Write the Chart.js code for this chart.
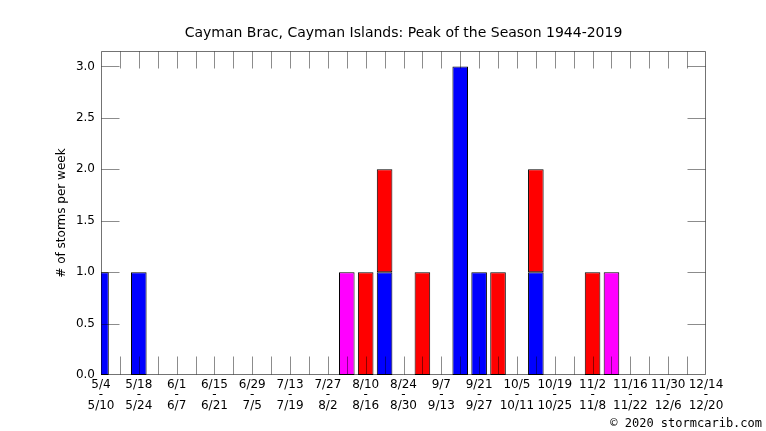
<!DOCTYPE html>
<html>
<head>
<meta charset="utf-8">
<script src="https://cdn.jsdelivr.net/npm/chart.js@4/dist/chart.umd.min.js"></script>
<style>
  html, body { margin: 0; padding: 0; background: #fff; }
  #wrap { width: 766px; height: 431px; position: relative; }
</style>
</head>
<body>
<div id="wrap"><canvas id="c" width="766" height="431"></canvas></div>
<script>
const weekStarts = ['5/4','5/11','5/18','5/25','6/1','6/8','6/15','6/22','6/29','7/6','7/13','7/20','7/27','8/3','8/10','8/17','8/24','8/31','9/7','9/14','9/21','9/28','10/5','10/12','10/19','10/26','11/2','11/9','11/16','11/23','11/30','12/7','12/14'];
const weekEnds = ['5/10','5/17','5/24','5/31','6/7','6/14','6/21','6/28','7/5','7/12','7/19','7/26','8/2','8/9','8/16','8/23','8/30','9/6','9/13','9/20','9/27','10/4','10/11','10/18','10/25','11/1','11/8','11/15','11/22','11/29','12/6','12/13','12/20'];
const blueSeries = [1,null,1,null,null,null,null,null,null,null,null,null,null,null,null,1,null,null,null,3,1,null,null,1,null,null,null,null,null,null,null,null,null];
const redSeries = [null,null,null,null,null,null,null,null,null,null,null,null,null,null,1,1,null,1,null,null,null,1,null,1,null,null,1,null,null,null,null,null,null];
const magentaSeries = [null,null,null,null,null,null,null,null,null,null,null,null,null,1,null,null,null,null,null,null,null,null,null,null,null,null,null,1,null,null,null,null,null];
const yTickValues = [0, 0.5, 1.0, 1.5, 2.0, 2.5, 3.0];
const titleText = 'Cayman Brac, Cayman Islands: Peak of the Season 1944-2019';
const yTitleText = '# of storms per week';
const creditText = '\u00a9 2020 stormcarib.com';

Chart.defaults.font.family = '"DejaVu Sans", sans-serif';
Chart.defaults.font.size = 12;
Chart.defaults.color = '#000';

const decor = {
  id: 'decor',
  afterDatasetsDraw(chart) {
    const ctx = chart.ctx;
    const a = chart.chartArea;
    const xs = chart.scales.x, ys = chart.scales.y;
    const L = Math.round(a.left) + 0.5, R = Math.round(a.right) - 0.5;
    const T = Math.round(a.top) + 0.5, B = Math.round(a.bottom) - 0.5;
    ctx.save();
    ctx.lineWidth = 1;
    ctx.strokeStyle = 'rgba(0,0,0,0.45)';
    ctx.beginPath();
    for (let i = 1; i < weekStarts.length - 1; i++) {
      const x = Math.round(xs.getPixelForValue(i)) + 0.5;
      ctx.moveTo(x, B); ctx.lineTo(x, B - 18);
      ctx.moveTo(x, T); ctx.lineTo(x, T + 17);
    }
    yTickValues.forEach(v => {
      if (v === 0) return;
      const y = Math.round(ys.getPixelForValue(v)) + 0.5;
      ctx.moveTo(L, y); ctx.lineTo(L + 18, y);
      ctx.moveTo(R, y); ctx.lineTo(R - 18, y);
    });
    ctx.stroke();
    ctx.strokeStyle = 'rgba(0,0,0,0.55)';
    ctx.beginPath();
    ctx.rect(L, T, R - L, B - T);
    ctx.stroke();
    // title
    ctx.fillStyle = '#000';
    ctx.font = '14px "DejaVu Sans", sans-serif';
    ctx.textAlign = 'center';
    ctx.textBaseline = 'middle';
    ctx.fillText(titleText, (a.left + a.right) / 2, 33);
    // y title
    ctx.save();
    ctx.translate(62, (a.top + a.bottom) / 2);
    ctx.rotate(-Math.PI / 2);
    ctx.font = '12px "DejaVu Sans", sans-serif';
    ctx.fillText(yTitleText, 0, 0);
    ctx.restore();
    // credit
    ctx.font = '12px "DejaVu Sans Mono", monospace';
    ctx.textAlign = 'right';
    ctx.fillText(creditText, 762, 424);
    ctx.restore();
  }
};

const barCommon = { borderColor: '#000', borderWidth: 1, borderSkipped: false, barPercentage: 0.825, categoryPercentage: 1.0 };

new Chart(document.getElementById('c'), {
  type: 'bar',
  data: {
    labels: weekStarts,
    datasets: [
      Object.assign({ label: 'blue', data: blueSeries, backgroundColor: '#0000ff' }, barCommon),
      Object.assign({ label: 'red', data: redSeries, backgroundColor: '#ff0000' }, barCommon),
      Object.assign({ label: 'magenta', data: magentaSeries, backgroundColor: '#ff00ff' }, barCommon)
    ]
  },
  options: {
    responsive: false,
    animation: false,
    devicePixelRatio: 1,
    layout: { padding: { top: 51, right: 60, left: 0, bottom: 0 } },
    plugins: { legend: { display: false }, title: { display: false }, tooltip: { enabled: false } },
    scales: {
      x: {
        stacked: true,
        offset: false,
        grid: { display: false, drawTicks: false },
        border: { display: false },
        ticks: {
          autoSkip: false,
          maxRotation: 0,
          minRotation: 0,
          padding: 4,
          font: { size: 12, lineHeight: 0.9 },
          callback: (v, i) => (i % 2 === 0 ? [weekStarts[i], '-', weekEnds[i]] : '')
        },
        afterFit: s => { s.height = 56; }
      },
      y: {
        stacked: true,
        min: 0,
        max: 3.15,
        grid: { display: false, drawTicks: false },
        border: { display: false },
        ticks: { stepSize: 0.5, padding: 6, callback: v => Number(v).toFixed(1) },
        afterBuildTicks: s => { s.ticks = s.ticks.filter(t => yTickValues.includes(Math.round(t.value * 100) / 100)); },
        afterFit: s => { s.width = 101; }
      }
    }
  },
  plugins: [decor]
});
</script>
</body>
</html>
